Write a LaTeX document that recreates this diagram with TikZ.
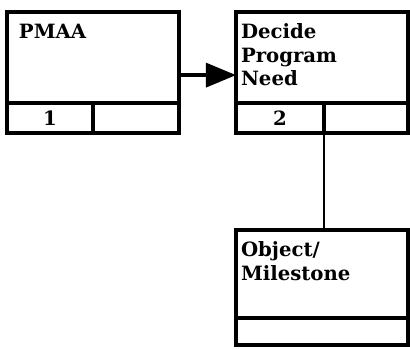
\documentclass[tikz,border=0pt]{standalone}
\usepackage{fontspec}
\setmainfont{DejaVu Serif}
\usetikzlibrary{positioning,arrows.meta}

\begin{document}
\begin{tikzpicture}[x=0.025cm,y=-0.025cm,
  font=\fontsize{14}{16.7}\selectfont\bfseries,
  every node/.style={inner sep=0pt,outer sep=0pt},
  body/.style={draw,line width=2.3pt,anchor=north west,minimum width=4.3cm,minimum height=2.275cm},
  cell/.style={draw,line width=2.3pt,minimum height=0.75cm,minimum width=2.15cm},
  title/.style={anchor=north west,align=left}]
  \useasboundingbox (0,0) rectangle (410,350);
  % box 1
  \node[body] (pmaa) at (7,12) {};
  \node[cell,below right=0pt of pmaa.south west] (pmaa1) {1};
  \node[cell,right=0pt of pmaa1] (pmaa2) {};
  \node[title] (pmaat) at ([shift={(12,12)}]pmaa.north west) {PMAA};
  % box 2
  \node[body] (need) at (236,12) {};
  \node[cell,minimum width=2.2cm,below right=0pt of need.south west] (need1) {2};
  \node[cell,minimum width=2.1cm,right=0pt of need1] (need2) {};
  \node[title] (needt) at ([shift={(5,12)}]need.north west) {Decide\\Program\\Need};
  % box 3
  \node[body,minimum height=2.2cm] (obj) at (236,230) {};
  \node[cell,minimum width=4.3cm,minimum height=0.675cm,below right=0pt of obj.south west] (obj1) {};
  \node[title] (objt) at ([shift={(5,12)}]obj.north west) {Object/\\Milestone};
  % links
  \draw[line width=2.4pt,-{Triangle[length=0.75cm,width=0.6cm]}]
    ([yshift=-0.44cm]pmaa.east) -- ([yshift=-0.44cm]need.west);
  \draw[line width=2pt] (need1.south east) -- (need1.south east |- obj.north);
\end{tikzpicture}
\end{document}
